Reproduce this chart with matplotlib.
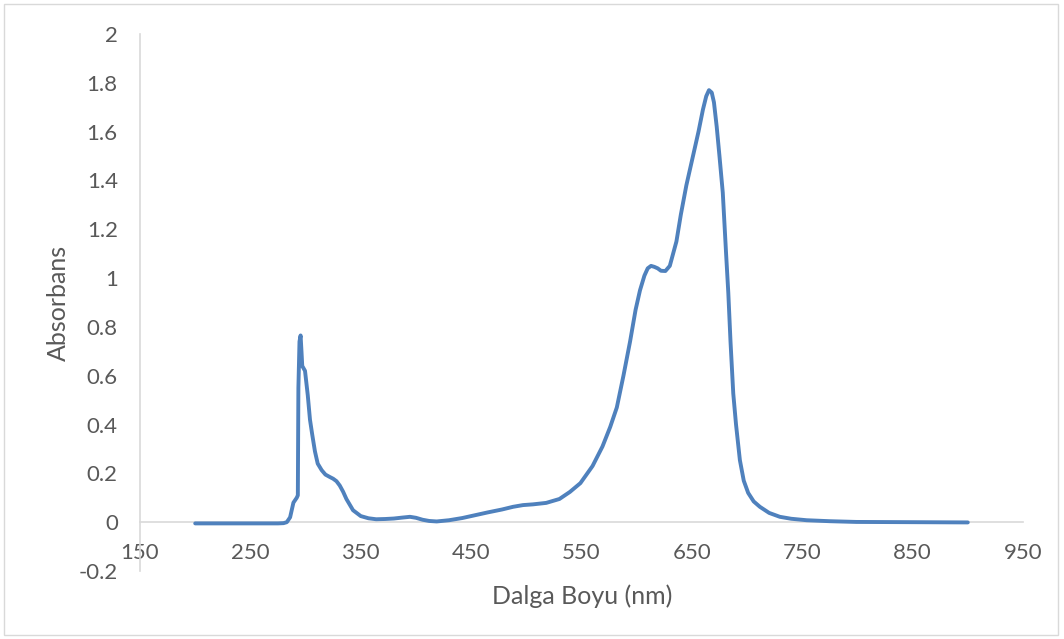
import matplotlib
matplotlib.use("Agg")
import matplotlib.pyplot as plt
from matplotlib.patches import Rectangle

# spectrum
wavelength = [200, 220, 240, 260, 275, 280, 283, 286, 289, 292, 293, 293.5,
              294.5, 295.5, 296.3, 297, 299.5, 302, 304, 306, 308.5, 311,
              314.6, 318, 322, 325, 328, 331, 334, 337, 343, 350, 357, 364,
              372, 380, 388, 394.6, 400, 406, 412, 418.8, 430, 442, 452,
              465, 478, 488, 497, 506, 518, 530, 539.5, 549, 560, 569, 576,
              582, 588, 594, 599, 603, 607, 610, 613, 616, 619, 622, 626,
              630, 633, 636, 640, 645, 651, 656, 660, 663, 665.5, 668, 670,
              672.5, 675, 678, 681, 683, 685, 687.5, 690, 693.5, 697, 701,
              706, 711.6, 720, 729.7, 740, 754, 775, 799, 850, 900]
absorbance = [-0.005, -0.005, -0.005, -0.005, -0.005, -0.004, 0.0, 0.02,
              0.08, 0.1, 0.11, 0.55, 0.74, 0.765, 0.70, 0.64, 0.62, 0.52,
              0.42, 0.36, 0.29, 0.24, 0.213, 0.195, 0.185, 0.178, 0.168,
              0.15, 0.125, 0.095, 0.049, 0.025, 0.016, 0.012, 0.013, 0.015,
              0.019, 0.022, 0.018, 0.01, 0.005, 0.003, 0.008, 0.017, 0.027,
              0.04, 0.052, 0.063, 0.07, 0.073, 0.079, 0.095, 0.124, 0.16,
              0.23, 0.31, 0.39, 0.47, 0.6, 0.74, 0.87, 0.95, 1.01, 1.04,
              1.05, 1.046, 1.04, 1.03, 1.029, 1.05, 1.1, 1.15, 1.26, 1.38,
              1.5, 1.6, 1.69, 1.745, 1.77, 1.76, 1.72, 1.62, 1.5, 1.35, 1.1,
              0.94, 0.74, 0.527, 0.4, 0.254, 0.17, 0.12, 0.085, 0.063,
              0.038, 0.022, 0.014, 0.008, 0.004, 0.001, 0.0, -0.001]

xticks = [150, 250, 350, 450, 550, 650, 750, 850, 950]
yticks = [-0.2, 0, 0.2, 0.4, 0.6, 0.8, 1, 1.2, 1.4, 1.6, 1.8, 2]
ytick_labels = ["-0.2", "0", "0.2", "0.4", "0.6", "0.8", "1", "1.2", "1.4",
                "1.6", "1.8", "2"]

text_color = "#595959"
axis_color = "#D9D9D9"
plt.rcParams['font.family'] = ['Lato', 'DejaVu Sans']

fig = plt.figure(figsize=(10.64, 6.39), dpi=100)
ax = fig.add_axes([140/1064, 1-571/639, (1023-140)/1064, (571-34)/639])

ax.plot(wavelength, absorbance, color="#4F81BD", lw=2.8,
        solid_capstyle="round", solid_joinstyle="round")

ax.set_xlim(150, 950)
ax.set_ylim(-0.2, 2)
ax.set_xticks(xticks)
ax.set_yticks(yticks, ytick_labels)

for s in ["top", "right"]:
    ax.spines[s].set_visible(False)
ax.spines["bottom"].set_position(("data", 0))
ax.spines["bottom"].set_color(axis_color)
ax.spines["left"].set_color(axis_color)
ax.spines["bottom"].set_linewidth(1.2)
ax.spines["left"].set_linewidth(1.2)
ax.spines["bottom"].set_zorder(0)
ax.tick_params(axis="both", length=0, labelsize=16, labelcolor=text_color)
ax.tick_params(axis="x", pad=15)
ax.tick_params(axis="y", pad=16)

fig.text(582/1064, 1-596/639, "Dalga Boyu (nm)", ha="center", va="center",
         fontsize=18, color=text_color)
fig.text(58/1064, 1-303/639, "Absorbans", ha="center", va="center",
         rotation=90, fontsize=18, color=text_color)

fig.patches.append(Rectangle((0.004, 0.006), 0.99, 0.988, transform=fig.transFigure,
                             fill=False, edgecolor=axis_color, lw=1))

fig.savefig("out.png", dpi=100)
